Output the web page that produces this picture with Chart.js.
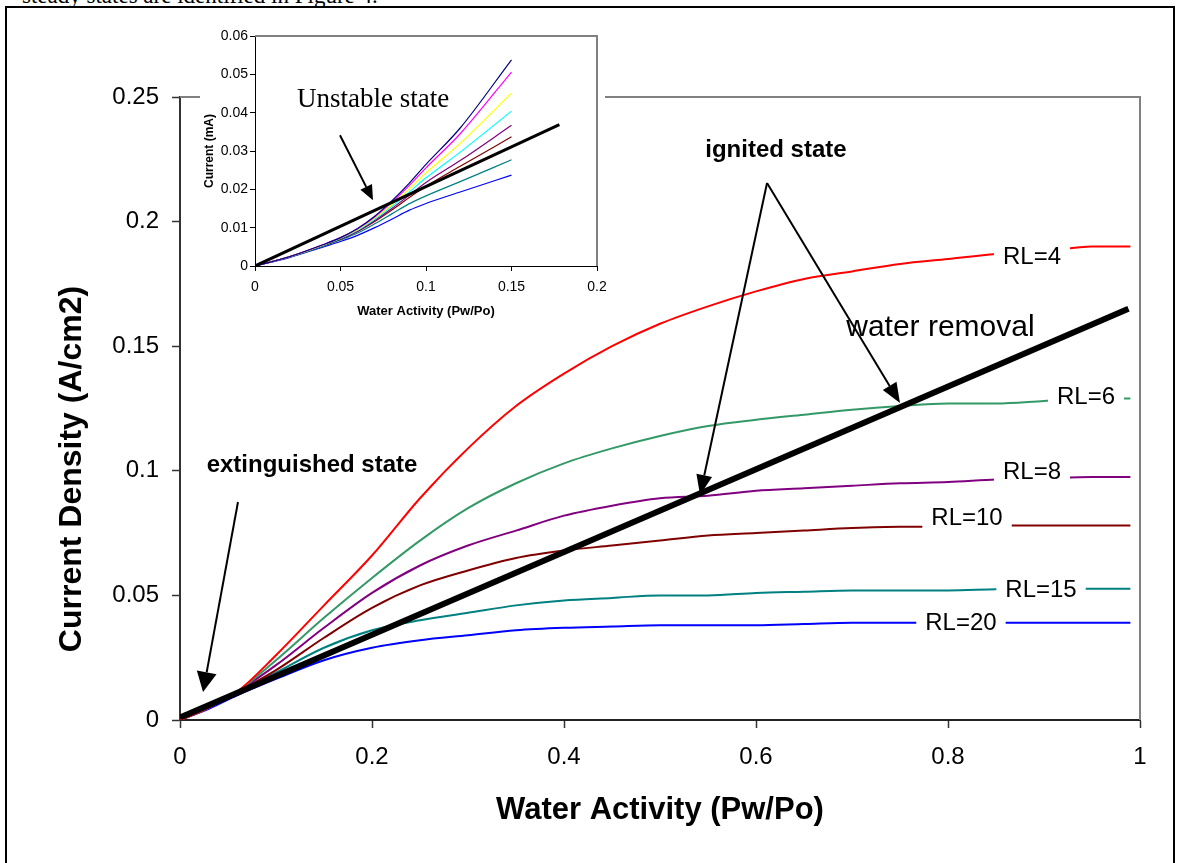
<!DOCTYPE html>
<html>
<head>
<meta charset="utf-8">
<script src="https://cdn.jsdelivr.net/npm/chart.js@4.4.0/dist/chart.umd.min.js"></script>
<style>
  body { margin: 0; width: 1177px; height: 863px; overflow: hidden; position: relative; background: #fff; }
  #caption { position: absolute; left: 22px; top: -15px; font: 23px/22px "Liberation Serif", "Times New Roman", serif; white-space: nowrap; }
  #frame { position: absolute; left: 5px; top: 6px; width: 1166px; height: 900px; border: 2px solid #000; }
  #main { position: absolute; left: 0; top: 0; }
  #inset { position: absolute; left: 200px; top: 22px; }
</style>
</head>
<body>
<div id="caption">steady states are identified in Figure 4.</div>
<div id="frame"></div>
<canvas id="main" width="1177" height="863"></canvas>
<canvas id="inset" width="430" height="298"></canvas>
<script>
// main chart: current density vs water activity
const xTicks = [0, 0.2, 0.4, 0.6, 0.8, 1];
const yTicks = [0, 0.05, 0.1, 0.15, 0.2, 0.25];
const aw = [0, 0.03, 0.06, 0.1, 0.15, 0.2, 0.25, 0.3, 0.35, 0.4, 0.45, 0.5, 0.55, 0.6, 0.65, 0.7, 0.75, 0.8, 0.85, 0.9, 0.95, 0.99];
const rl4  = [0, 0.005, 0.0115, 0.026, 0.046, 0.066, 0.089, 0.109, 0.126, 0.139, 0.150, 0.159, 0.166, 0.172, 0.177, 0.180, 0.183, 0.185, 0.187, 0.188, 0.190, 0.190];
const rl6  = [0, 0.005, 0.0115, 0.024, 0.041, 0.057, 0.072, 0.085, 0.095, 0.103, 0.109, 0.114, 0.118, 0.1205, 0.1225, 0.1245, 0.126, 0.127, 0.127, 0.128, 0.129, 0.129];
const rl8  = [0, 0.005, 0.0115, 0.022, 0.037, 0.051, 0.062, 0.070, 0.076, 0.082, 0.086, 0.089, 0.090, 0.092, 0.093, 0.094, 0.095, 0.0955, 0.0965, 0.097, 0.0975, 0.0975];
const rl10 = [0, 0.005, 0.0113, 0.020, 0.033, 0.045, 0.054, 0.060, 0.065, 0.068, 0.070, 0.072, 0.074, 0.075, 0.076, 0.077, 0.0775, 0.0775, 0.078, 0.078, 0.078, 0.078];
const rl15 = [0, 0.005, 0.011, 0.019, 0.029, 0.036, 0.040, 0.043, 0.046, 0.048, 0.049, 0.050, 0.050, 0.051, 0.0515, 0.052, 0.052, 0.052, 0.0525, 0.0527, 0.0527, 0.0527];
const rl20 = [0, 0.0045, 0.010, 0.0165, 0.024, 0.029, 0.032, 0.034, 0.036, 0.037, 0.0375, 0.038, 0.038, 0.038, 0.0385, 0.039, 0.039, 0.039, 0.039, 0.039, 0.039, 0.039];
const rlNames = ['RL=4', 'RL=6', 'RL=8', 'RL=10', 'RL=15', 'RL=20'];
const rlColors = ['#ff0000', '#339966', '#800080', '#800000', '#008080', '#0000ff'];
const waterAw = [0, 0.988];
const waterJ = [0.001, 0.165];

// inset: current (mA) vs water activity
const insetXTicks = [0, 0.05, 0.1, 0.15, 0.2];
const insetYTicks = [0, 0.01, 0.02, 0.03, 0.04, 0.05, 0.06];
const insetAw = [0, 0.02, 0.04, 0.05, 0.06, 0.07, 0.08, 0.09, 0.1, 0.12, 0.15];
const cNavy    = [0, 0.0024, 0.0056, 0.0074, 0.0098, 0.0130, 0.0170, 0.0215, 0.0265, 0.0360, 0.0538];
const cMagenta = [0, 0.0024, 0.0056, 0.0074, 0.0097, 0.0128, 0.0166, 0.0209, 0.0256, 0.0345, 0.0506];
const cYellow  = [0, 0.0024, 0.0055, 0.0073, 0.0095, 0.0125, 0.0160, 0.0200, 0.0243, 0.0320, 0.0451];
const cCyan    = [0, 0.0024, 0.0055, 0.0072, 0.0093, 0.0122, 0.0155, 0.0192, 0.0230, 0.0297, 0.0404];
const cPurple  = [0, 0.0024, 0.0054, 0.0071, 0.0091, 0.0119, 0.0150, 0.0184, 0.0218, 0.0275, 0.0367];
const cBrown   = [0, 0.0024, 0.0054, 0.0070, 0.0090, 0.0116, 0.0146, 0.0178, 0.0208, 0.0260, 0.0337];
const cTeal    = [0, 0.0023, 0.0052, 0.0068, 0.0086, 0.0110, 0.0136, 0.0162, 0.0183, 0.0220, 0.0277];
const cBlue    = [0, 0.0022, 0.0050, 0.0064, 0.0080, 0.0100, 0.0122, 0.0145, 0.0163, 0.0193, 0.0237];
const insetColors = ['#000080', '#ff00ff', '#ffff00', '#00ffff', '#800080', '#800000', '#008080', '#0000ff'];
const insetWaterAw = [0, 0.178];
const insetWaterI = [0, 0.0369];

// annotation anchors (data units)
const rlLabelAt = [[0.8875, 0.1858], [0.9438, 0.1296], [0.8875, 0.0995], [0.8198, 0.081], [0.8969, 0.0522], [0.8135, 0.0389]];

const FONT = '"Liberation Sans", Arial, sans-serif';
const SERIF = '"Liberation Serif", "Times New Roman", serif';

const pts = (xs, ys) => xs.map((x, i) => ({ x: x, y: ys[i] }));

function arrow(ctx, x1, y1, x2, y2, lw, headLen, headW) {
    const a = Math.atan2(y2 - y1, x2 - x1);
    const bx = x2 - headLen * Math.cos(a), by = y2 - headLen * Math.sin(a);
    ctx.strokeStyle = '#000';
    ctx.fillStyle = '#000';
    ctx.lineWidth = lw;
    ctx.beginPath();
    ctx.moveTo(x1, y1);
    ctx.lineTo(bx, by);
    ctx.stroke();
    ctx.beginPath();
    ctx.moveTo(x2, y2);
    ctx.lineTo(bx + headW / 2 * Math.sin(a), by - headW / 2 * Math.cos(a));
    ctx.lineTo(bx - headW / 2 * Math.sin(a), by + headW / 2 * Math.cos(a));
    ctx.closePath();
    ctx.fill();
}

function plotBorder(chart) {
    const { ctx, chartArea: a } = chart;
    ctx.save();
    ctx.strokeStyle = '#808080';
    ctx.lineWidth = 2;
    ctx.beginPath();
    ctx.moveTo(a.left, a.top);
    ctx.lineTo(a.right, a.top);
    ctx.lineTo(a.right, a.bottom);
    ctx.stroke();
    ctx.restore();
}

const mainNotes = {
    id: 'mainNotes',
    beforeDatasetsDraw(chart) { plotBorder(chart); },
    afterDatasetsDraw(chart) {
        const { ctx, scales: { x, y } } = chart;
        const px = v => x.getPixelForValue(v);
        const py = v => y.getPixelForValue(v);
        ctx.save();
        ctx.textAlign = 'center';
        ctx.textBaseline = 'middle';
        ctx.font = '24px ' + FONT;
        rlNames.forEach((name, i) => {
            const cx = px(rlLabelAt[i][0]), cy = py(rlLabelAt[i][1]);
            const w = ctx.measureText(name).width + 18;
            ctx.fillStyle = '#fff';
            ctx.fillRect(cx - w / 2, cy - 12, w, 24);
            ctx.fillStyle = '#000';
            ctx.fillText(name, cx, cy);
        });
        ctx.font = 'bold 24px ' + FONT;
        ctx.fillText('extinguished state', px(0.1375), py(0.1023));
        ctx.fillText('ignited state', px(0.6208), py(0.2287));
        ctx.textAlign = 'left';
        ctx.font = '30px ' + FONT;
        ctx.fillText('water removal', px(0.694), py(0.1573));
        arrow(ctx, px(0.0604), py(0.0875), px(0.024), py(0.0112), 2, 20, 20);
        arrow(ctx, px(0.6115), py(0.2155), px(0.5417), py(0.0903), 2, 20, 16);
        arrow(ctx, px(0.6115), py(0.2155), px(0.75), py(0.1272), 2, 20, 16);
        ctx.restore();
    },
    afterDraw(chart) {
        // y axis title sits a little below the middle of the axis, as in the original
        const { ctx, chartArea: a } = chart;
        ctx.save();
        ctx.translate(a.left - 108, a.bottom - 251);
        ctx.rotate(-Math.PI / 2);
        ctx.textAlign = 'center';
        ctx.textBaseline = 'middle';
        ctx.fillStyle = '#000';
        ctx.font = 'bold 32px ' + FONT;
        ctx.fillText('Current Density (A/cm2)', 0, 0);
        ctx.restore();
    }
};

const mainSets = [rl4, rl6, rl8, rl10, rl15, rl20].map((ys, i) => ({
    label: rlNames[i],
    data: pts(aw, ys),
    borderColor: rlColors[i],
    borderWidth: 2,
    pointRadius: 0,
    cubicInterpolationMode: 'monotone'
}));

new Chart(document.getElementById('main'), {
    type: 'line',
    data: {
        datasets: [{
            label: 'water removal',
            data: pts(waterAw, waterJ),
            borderColor: '#000',
            borderWidth: 6,
            pointRadius: 0
        }].concat(mainSets)
    },
    options: {
        responsive: false,
        animation: false,
        devicePixelRatio: 1,
        layout: { padding: { top: 97, right: 37, left: 0, bottom: 0 } },
        plugins: { legend: { display: false }, tooltip: { enabled: false } },
        scales: {
            x: {
                type: 'linear', min: 0, max: 1,
                afterBuildTicks: s => { s.ticks = xTicks.map(v => ({ value: v })); },
                afterFit: s => { s.height = 143; },
                ticks: { font: { size: 24, family: FONT }, color: '#000', padding: 15, maxRotation: 0, callback: v => String(v) },
                grid: { drawOnChartArea: false, tickLength: 8, color: '#333', tickWidth: 1.5 },
                border: { color: '#222', width: 2 },
                title: { display: true, text: 'Water Activity (Pw/Po)', color: '#000',
                         font: { size: 31, weight: 'bold', family: FONT }, padding: { top: 0, bottom: 34 } }
            },
            y: {
                type: 'linear', min: 0, max: 0.25,
                afterBuildTicks: s => { s.ticks = yTicks.map(v => ({ value: v })); },
                afterFit: s => { s.width = 180; },
                ticks: { font: { size: 24, family: FONT }, color: '#000', padding: 13, callback: v => String(v) },
                grid: { drawOnChartArea: false, tickLength: 8, color: '#333', tickWidth: 1.5 },
                border: { color: '#333', width: 2 }
            }
        }
    },
    plugins: [mainNotes]
});

const insetNotes = {
    id: 'insetNotes',
    beforeDraw(chart) {
        // white panel of the inset, stopping just past its plot area
        const { ctx, chartArea: a, height } = chart;
        ctx.save();
        ctx.fillStyle = '#fff';
        ctx.fillRect(0, 0, a.right + 8, height);
        ctx.restore();
    },
    beforeDatasetsDraw(chart) { plotBorder(chart); },
    afterDatasetsDraw(chart) {
        const { ctx, scales: { x, y } } = chart;
        const px = v => x.getPixelForValue(v);
        const py = v => y.getPixelForValue(v);
        ctx.save();
        ctx.fillStyle = '#000';
        ctx.textAlign = 'left';
        ctx.textBaseline = 'middle';
        ctx.font = '27px ' + SERIF;
        ctx.fillText('Unstable state', px(0.0246), py(0.0432));
        arrow(ctx, px(0.0497), py(0.0341), px(0.069), py(0.01714), 2, 15, 13);
        ctx.restore();
    }
};

const insetSets = [cNavy, cMagenta, cYellow, cCyan, cPurple, cBrown, cTeal, cBlue].map((ys, i) => ({
    data: pts(insetAw, ys),
    borderColor: insetColors[i],
    borderWidth: 1.2,
    pointRadius: 0,
    cubicInterpolationMode: 'monotone'
}));

new Chart(document.getElementById('inset'), {
    type: 'line',
    data: {
        datasets: [{
            data: pts(insetWaterAw, insetWaterI),
            borderColor: '#000',
            borderWidth: 3,
            pointRadius: 0
        }].concat(insetSets)
    },
    options: {
        responsive: false,
        animation: false,
        devicePixelRatio: 1,
        layout: { padding: { top: 14, right: 33, left: 0, bottom: 0 } },
        plugins: { legend: { display: false }, tooltip: { enabled: false } },
        scales: {
            x: {
                type: 'linear', min: 0, max: 0.2,
                afterBuildTicks: s => { s.ticks = insetXTicks.map(v => ({ value: v })); },
                afterFit: s => { s.height = 54; },
                ticks: { font: { size: 14, family: FONT }, color: '#000', padding: 8, maxRotation: 0, callback: v => String(v) },
                grid: { drawOnChartArea: false, tickLength: 5, color: '#000' },
                border: { color: '#000', width: 1 },
                title: { display: true, text: 'Water Activity (Pw/Po)', color: '#000',
                         font: { size: 13, weight: 'bold', family: FONT }, padding: { top: 0, bottom: 1 } }
            },
            y: {
                type: 'linear', min: 0, max: 0.06,
                afterBuildTicks: s => { s.ticks = insetYTicks.map(v => ({ value: v })); },
                afterFit: s => { s.width = 55; },
                ticks: { font: { size: 14, family: FONT }, color: '#000', padding: 2, callback: v => String(v) },
                grid: { drawOnChartArea: false, tickLength: 5, color: '#000' },
                border: { color: '#000', width: 1 },
                title: { display: true, text: 'Current (mA)', color: '#000',
                         font: { size: 12, weight: 'bold', family: FONT }, padding: { top: 2, bottom: 0 } }
            }
        }
    },
    plugins: [insetNotes]
});
</script>
</body>
</html>
